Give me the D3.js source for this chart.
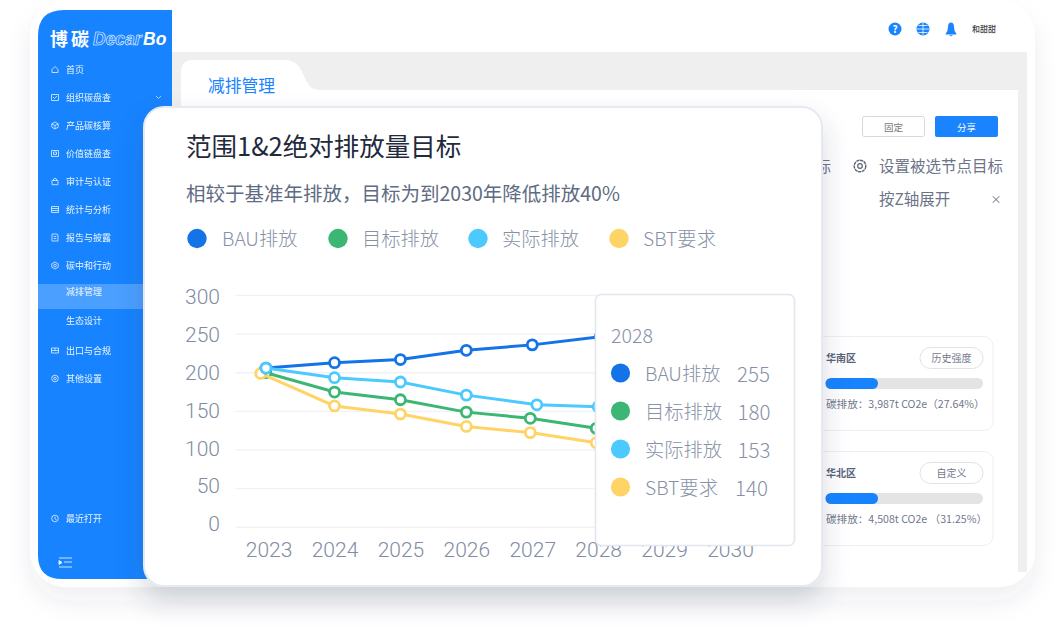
<!DOCTYPE html>
<html><head><meta charset="utf-8">
<script src="https://cdn.jsdelivr.net/npm/d3@7/dist/d3.min.js"></script>
<style>
html,body{margin:0;padding:0;background:#fff;overflow:hidden}
svg{display:block}
text{font-family:"Noto Sans CJK SC","Noto Sans",sans-serif}
</style></head><body><div id="c"></div>
<script>
const yearTicks=[2023,2024,2025,2026,2027,2028,2029,2030];
const valueTicks=[0,50,100,150,200,250,300];
const bauX=[2022.96,2024,2025,2026,2027,2028.03];
const bauY=[206,213,217,229,236,246.5];
const actualX=[2022.96,2024,2025,2026,2027.07,2028];
const actualY=[206,193.5,188,171,158.5,156];
const targetX=[2022.96,2024,2025,2026,2026.97,2027.97];
const targetY=[200,175,165,149,141,128];
const sbtX=[2022.88,2024,2025,2026,2026.97,2027.97];
const sbtY=[199,157,146.5,130.5,122.5,109.5];
const seriesNames=["BAU排放","目标排放","实际排放","SBT要求"];
const seriesColors=["#1473e6","#3bb673","#4cc9ff","#ffd466"];
const tipValues=[255,180,153,140];
const menu=["首页","组织碳盘查","产品碳核算","价值链盘查","审计与认证","统计与分析","报告与披露","碳中和行动","减排管理","生态设计","出口与合规","其他设置","最近打开"];
const menuY=[70,98,126,154,182,210,238,266,292,321,351,379,519];
const menuIcons=[
 "M-3 0L0-3L3 0V3H-3Z",
 "M-3.5-3H3.5V3H-3.5ZM-2-.5L-.5 1L2-1.5",
 "M0-3.5L3.2-1.7V1.7L0 3.5L-3.2 1.7V-1.7ZM-3.2-1.7L0 0L3.2-1.7M0 0V3.5",
 "M-3.5-3H3.5V3H-3.5ZM-1.5-1.5H1.5V1H-1.5Z",
 "M-1.5-1V-2.5Q0-4 1.5-2.5V-1M-3-1H3V3.2H-3Z",
 "M-3.5-3H3.5V3H-3.5ZM-3.5-1H3.5M-3.5 1H3.5",
 "M-3-3.5H2L3-2.5V3.5H-3ZM-1.3-1H1.3M-1.3 1H1.3",
 "M0-3.5L3.2-1.7V1.7L0 3.5L-3.2 1.7V-1.7ZM-1.3 0A1.3 1.3 0 1 0 1.3 0A1.3 1.3 0 1 0-1.3 0",
 null,null,
 "M-3.5-2.5H3.5V2.5H-3.5ZM-3.5 0H3.5M0-2.5V0",
 "M-3.3 0A3.3 3.3 0 1 0 3.3 0A3.3 3.3 0 1 0-3.3 0M-1.3 0A1.3 1.3 0 1 0 1.3 0A1.3 1.3 0 1 0-1.3 0",
 "M-3.3 0A3.3 3.3 0 1 0 3.3 0A3.3 3.3 0 1 0-3.3 0M0-1.8V0.3L1.5 1.2"
];

const svg=d3.select("#c").append("svg").attr("width",1062).attr("height",643);
const defs=svg.append("defs");
function shadow(id,dy,blur,op,col){
  const f=defs.append("filter").attr("id",id).attr("x","-20%").attr("y","-20%").attr("width","140%").attr("height","150%");
  f.append("feDropShadow").attr("dx",0).attr("dy",dy).attr("stdDeviation",blur).attr("flood-color",col).attr("flood-opacity",op);
}
shadow("outer",14,12,.08,"#3a4660");
shadow("main",14,13,.2,"#3a4660");
const txt=(g,x,y,s,size,fill,o={})=>g.append("text").attr("x",x).attr("y",y-(o.f?0:size*0.09)).attr("dominant-baseline","central")
  .attr("font-size",size).attr("fill",fill).attr("font-weight",o.w||400).attr("text-anchor",o.a||"start")
  .attr("font-style",o.i||null).style("font-family",o.f||null).text(s);
const rect=(g,x,y,w,h,r,fill,st,sw)=>g.append("rect").attr("x",x).attr("y",y).attr("width",w).attr("height",h).attr("rx",r)
  .attr("fill",fill).attr("stroke",st||"none").attr("stroke-width",sw||0);

// shell
const shell=svg.append("g");
rect(shell,30,0,1005,587,36,"#fff").attr("filter","url(#outer)");
shell.append("path").attr("d","M172 52H1027V572H172Z").attr("fill","#efefef");
shell.append("path").attr("d","M181 572V72Q181 60 193 60H285Q296 60 301 70L307 82Q311 90 320 90H1018V572Z").attr("fill","#fff");
txt(shell,208,87,"减排管理",16.8,"#1a84ff");

// sidebar
const side=svg.append("g");
side.append("path").attr("d","M172 10V579H62Q38 579 38 555V36Q38 10 64 10Z").attr("fill","#1783ff");
txt(side,50,40,"博",18,"#fff",{w:700});
txt(side,71,40,"碳",18,"#fff",{w:700});
side.append("text").attr("x",93).attr("y",39).attr("dominant-baseline","central").attr("font-size",17.5).attr("font-style","italic")
  .attr("font-weight",700).attr("fill","none").attr("stroke","#fff").attr("stroke-width",.55).style("font-family","Liberation Sans").text("Decar");
side.append("text").attr("x",143).attr("y",39).attr("dominant-baseline","central").attr("font-size",17.5).attr("font-style","italic")
  .attr("font-weight",700).attr("fill","#fff").style("font-family","Liberation Sans").text("Bo");
rect(side,38,284,134,25,0,"#4a9fff");
menu.forEach((m,i)=>{
  txt(side,66,menuY[i],m,9,"#fff",{}).attr("opacity",.92);
  if(menuIcons[i]) side.append("path").attr("d",menuIcons[i]).attr("transform",`translate(55,${menuY[i]-.5})`)
    .attr("fill","none").attr("stroke","#e6f1ff").attr("stroke-width",.8);
});
side.append("path").attr("d","M156 96l2.5 2.5 2.5-2.5").attr("fill","none").attr("stroke","#cfe4ff").attr("stroke-width",.8);
side.append("path").attr("d","M59 558H72M64 562H72M59 567H72M59 560.5L62 562.5L59 564.5Z").attr("fill","#e6f1ff").attr("stroke","#e6f1ff").attr("stroke-width",.9);

// top right
const top_=svg.append("g");
top_.append("circle").attr("cx",895).attr("cy",29).attr("r",6.5).attr("fill","#1a84ff");
txt(top_,895,29.5,"?",10,"#fff",{a:"middle",w:700});
top_.append("circle").attr("cx",923).attr("cy",29).attr("r",6.5).attr("fill","#1a84ff");
top_.append("path").attr("d","M917 29H929M923 23V35M918.5 25.5H927.5M918.5 32.5H927.5").attr("stroke","#fff").attr("stroke-width",.8);
top_.append("path").attr("d","M945.5 34Q948 31 948 27Q948 22.5 951 22.5Q954 22.5 954 27Q954 31 956.5 34Q956.5 34.5 955.5 34.5H946.5Q945.5 34.5 945.5 34ZM949 35.2H953L951 36.5Z").attr("fill","#1a84ff");
txt(top_,972,29.5,"和甜甜",8,"#444",{w:500});
rect(top_,862.5,116.5,62,20,2,"#fff","#d6d8e0",1);
txt(top_,893.5,127.5,"固定",9.5,"#777",{a:"middle"});
rect(top_,935,116,63,21,2,"#1a84ff");
txt(top_,966.5,127.5,"分享",9.5,"#fff",{a:"middle"});
txt(top_,815.5,166,"标",15.5,"#6d7488");
top_.append("circle").attr("cx",860).attr("cy",166).attr("r",2.3).attr("fill","none").attr("stroke","#5d6478").attr("stroke-width",1.2);
top_.append("circle").attr("cx",860).attr("cy",166).attr("r",5.8).attr("fill","none").attr("stroke","#5d6478").attr("stroke-width",1.4).attr("stroke-dasharray","3.2 .6");
txt(top_,879,166,"设置被选节点目标",15.5,"#6d7488");
txt(top_,879,199,"按Z轴展开",15.5,"#6d7488");
txt(top_,996,200,"×",11,"#6d7488",{a:"middle"});

// region cards
[{y:336,n:"华南区",chip:"历史强度",t:"碳排放：3,987t CO2e（27.64%）"},{y:451,n:"华北区",chip:"自定义",t:"碳排放：4,508t CO2e （31.25%）"}].forEach(c=>{
  const g=svg.append("g");
  rect(g,780,c.y+.5,213,94,9,"#fff","#eeeff4",1);
  txt(g,826,c.y+22,c.n,10,"#5a6178",{w:700});
  rect(g,920,c.y+11.5,63,21,10.5,"#fff","#d8dae2",.8);
  txt(g,951.5,c.y+22.5,c.chip,10,"#71788c",{a:"middle"});
  rect(g,825.5,c.y+42,157.5,11,5.5,"#e4e4e4");
  rect(g,825.5,c.y+42,52.5,11,5.5,"#1783ff");
  txt(g,826,c.y+68.5,c.t,10.6,"#71788c");
});

// main card
const card=svg.append("g");
rect(card,144,107,678,479,20,"#fff","#e6e8f2",2).attr("filter","url(#main)");
txt(card,186,146.5,"范围1&2绝对排放量目标",25.5,"#1f2a3d");
txt(card,186,194,"相较于基准年排放，目标为到2030年降低排放40%",19.5,"#5e6b82");
const legX=[197,338,478,619], legT=[222,362,502,643];
seriesNames.forEach((n,i)=>{
  card.append("circle").attr("cx",legX[i]).attr("cy",238.5).attr("r",9.7).attr("fill",seriesColors[i]);
  txt(card,legT[i],240,n,19.3,"#8791a6",{w:300});
});

// chart
const x=d3.scaleLinear().domain([2023,2030]).range([268.6,730]);
const y=d3.scaleLinear().domain([0,300]).range([527.3,295.4]);
const yLabel=d3.scaleLinear().domain([0,300]).range([523.7,296.7]);
const chart=svg.append("g");
chart.append("g").selectAll("line").data(valueTicks).join("line")
  .attr("x1",235.5).attr("x2",792).attr("y1",d=>y(d)).attr("y2",d=>y(d)).attr("stroke","#f1f2f8").attr("stroke-width",1.4);
const ya=chart.append("g").attr("transform","translate(220,0)").call(d3.axisLeft(yLabel).tickValues(valueTicks).tickSize(0).tickPadding(0));
ya.select(".domain").remove();
ya.selectAll("text").attr("font-size",21).attr("font-weight",300).attr("fill","#818ca3").attr("dy",0).attr("dominant-baseline","central").style("font-family","Roboto");
const xa=chart.append("g").attr("transform","translate(0,550)").call(d3.axisBottom(x).tickValues(yearTicks).tickFormat(d3.format("d")).tickSize(0).tickPadding(0));
xa.select(".domain").remove();
xa.selectAll("text").attr("font-size",21).attr("font-weight",300).attr("fill","#818ca3").attr("y",0).attr("dy",0).attr("dominant-baseline","central").style("font-family","Roboto");

const line=d3.line().x(d=>x(d[0])).y(d=>y(d[1]));
const order=[[targetX,targetY,1],[sbtX,sbtY,3],[bauX,bauY,0],[actualX,actualY,2]];
order.forEach(([xs,ys,c])=>{
  const pts=xs.map((v,i)=>[v,ys[i]]);
  const g=chart.append("g");
  g.append("path").attr("d",line(pts)).attr("fill","none").attr("stroke",seriesColors[c]).attr("stroke-width",3);
  g.selectAll("circle").data(pts).join("circle").attr("cx",d=>x(d[0])).attr("cy",d=>y(d[1])).attr("r",5)
    .attr("fill","#fff").attr("stroke",seriesColors[c]).attr("stroke-width",2.8);
});

// tooltip
const tip=svg.append("g");
rect(tip,595.5,294.5,199,251,6,"#fff","#e3e6ef",1.6);
txt(tip,611,336,"2028",19.6,"#8791a6",{w:300});
const rowY=[373,411,449,487], valX=[737,737.5,737.5,735];
seriesNames.forEach((n,i)=>{
  tip.append("circle").attr("cx",620.5).attr("cy",rowY[i]).attr("r",9.6).attr("fill",seriesColors[i]);
  txt(tip,645,rowY[i]+1.5,n,19.3,"#8791a6",{w:300});
  txt(tip,valX[i],rowY[i]+1.5,tipValues[i],20.5,"#8791a6",{w:300});
});
</script></body></html>
